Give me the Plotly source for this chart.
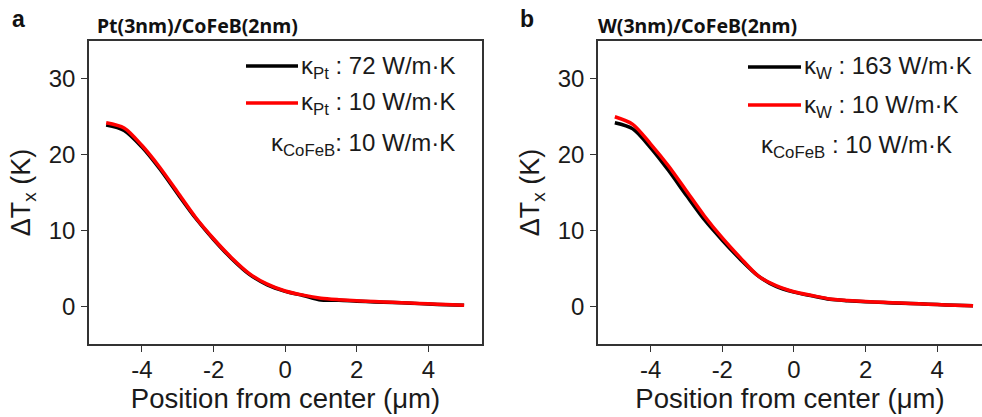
import plotly.graph_objects as go

# Position along the channel (µm)
position = [-5.0, -4.5, -4.0, -3.5, -3.0, -2.5, -2.0, -1.5, -1.0, -0.5, 0.0,
            0.5, 1.0, 1.5, 2.0, 2.5, 3.0, 3.5, 4.0, 4.5, 5.0]

# Panel a: Pt(3nm)/CoFeB(2nm), temperature rise ΔTx (K)
pt_kappa72 = [23.9, 23.2, 21.0, 18.1, 14.8, 11.6, 8.8, 6.3, 4.2, 2.8, 1.95,
              1.4, 0.8, 0.78, 0.65, 0.55, 0.48, 0.38, 0.28, 0.18, 0.1]
pt_kappa10 = [24.2, 23.5, 21.2, 18.3, 15.0, 11.7, 8.9, 6.4, 4.3, 2.9, 2.0,
              1.45, 1.05, 0.85, 0.7, 0.6, 0.5, 0.4, 0.3, 0.2, 0.1]

# Panel b: W(3nm)/CoFeB(2nm), temperature rise ΔTx (K)
w_kappa163 = [24.2, 23.4, 20.9, 17.9, 14.6, 11.4, 8.7, 6.2, 4.0, 2.6, 1.85,
              1.35, 0.9, 0.72, 0.58, 0.48, 0.38, 0.3, 0.2, 0.12, 0.05]
w_kappa10 = [25.0, 24.0, 21.4, 18.5, 15.2, 11.9, 9.0, 6.4, 4.0, 2.7, 1.9,
             1.4, 0.95, 0.75, 0.6, 0.5, 0.4, 0.3, 0.2, 0.12, 0.05]

x_ticks = [-4, -2, 0, 2, 4]
x_tick_labels = ["-4", "-2", "0", "2", "4"]
y_ticks = [0, 10, 20, 30]
y_tick_labels = ["0", "10", "20", "30"]

panel_letters = ["a", "b"]
panel_titles = ["Pt(3nm)/CoFeB(2nm)", "W(3nm)/CoFeB(2nm)"]
legend_a = ["κ<sub>Pt</sub> : 72 W/m·K", "κ<sub>Pt</sub> : 10 W/m·K",
            "κ<sub>CoFeB</sub>: 10 W/m·K"]
legend_b = ["κ<sub>W</sub> : 163 W/m·K", "κ<sub>W</sub> : 10 W/m·K",
            "κ<sub>CoFeB</sub> : 10 W/m·K"]

BLACK = "#000000"
RED = "#ff0000"
W, H = 982, 417
TOP, BOTTOM = 41, 344
FONT = "Liberation Sans, Arial, sans-serif"
TEXT = "#1a1a1a"


def px(x):
    return x / W


def py(y):
    return (BOTTOM - y) / (BOTTOM - TOP)


fig = go.Figure()

series = [
    ("x", "y", pt_kappa72, BLACK),
    ("x", "y", pt_kappa10, RED),
    ("x2", "y2", w_kappa163, BLACK),
    ("x2", "y2", w_kappa10, RED),
]
for xa, ya, vals, col in series:
    fig.add_trace(go.Scatter(
        x=position, y=vals, xaxis=xa, yaxis=ya, mode="lines",
        line=dict(color=col, width=3.5, shape="spline", smoothing=0.8),
        showlegend=False, hoverinfo="skip",
    ))

axis_common = dict(
    showgrid=False, zeroline=False, showline=True, linecolor="#333333",
    linewidth=1.6, ticks="outside", ticklen=6, tickwidth=1.3,
    tickcolor="#333333", tickfont=dict(family=FONT, size=24, color=TEXT),
)
x_title = dict(text="Position from center (μm)", standoff=0,
               font=dict(family=FONT, size=27.5, color=TEXT))
y_title = dict(text="ΔT<sub>x</sub> (K)", standoff=10,
               font=dict(family=FONT, size=27, color=TEXT))

fig.update_layout(
    width=W, height=H,
    margin=dict(l=0, r=0, t=TOP, b=H - BOTTOM),
    plot_bgcolor="white", paper_bgcolor="white",
    xaxis=dict(axis_common, domain=[px(89), px(482)], range=[-5.48, 5.5],
               tickvals=x_ticks, ticktext=x_tick_labels, mirror=True,
               anchor="y", ticklabelstandoff=-3, title=x_title),
    yaxis=dict(axis_common, domain=[0, 1], range=[-5, 35], tickvals=y_ticks,
               ticktext=y_tick_labels, mirror=True, anchor="x",
               ticklabelstandoff=1, title=y_title),
    xaxis2=dict(axis_common, domain=[px(598), 1.0], range=[-5.47, 5.25],
                tickvals=x_ticks, ticktext=x_tick_labels, mirror=True,
                anchor="y2", ticklabelstandoff=-3, title=x_title),
    yaxis2=dict(axis_common, domain=[0, 1], range=[-5, 35], tickvals=y_ticks,
                ticktext=y_tick_labels, mirror=False, anchor="x2",
                ticklabelstandoff=1, title=y_title),
)

# Panel letters and titles
for lx, tx, letter, title in [(10, 95, panel_letters[0], panel_titles[0]),
                              (518, 596, panel_letters[1], panel_titles[1])]:
    fig.add_annotation(x=px(lx), y=py(19), xref="paper", yref="paper",
                       text=f"<b>{letter}</b>", showarrow=False,
                       xanchor="left", yanchor="middle",
                       font=dict(family=FONT, size=23, color="#111111"))
    fig.add_annotation(x=px(tx), y=py(25), xref="paper", yref="paper",
                       text=f"<b>{title}</b>", showarrow=False,
                       xanchor="left", yanchor="middle",
                       font=dict(family="Noto Sans, sans-serif", size=19.5,
                                 color="#111111"))

# Legend blocks: sample line + label for each curve, plus the CoFeB note
for (x0, x1, rows, note_x, note_y, labels) in [
    (246, 298, [(66, BLACK), (103, RED)], 457, 143, legend_a),
    (748, 801, [(67, BLACK), (105, RED)], 954, 145, legend_b),
]:
    for (ly, col), lab in zip(rows, labels[:2]):
        fig.add_shape(type="line", xref="paper", yref="paper",
                      x0=px(x0), x1=px(x1), y0=py(ly), y1=py(ly),
                      line=dict(color=col, width=3.5))
        fig.add_annotation(x=px(x1 + 1), y=py(ly + 1), xref="paper",
                           yref="paper", text=lab, showarrow=False,
                           xanchor="left", yanchor="middle",
                           font=dict(family=FONT, size=24, color=TEXT))
    fig.add_annotation(x=px(note_x), y=py(note_y + 1), xref="paper",
                       yref="paper", text=labels[2], showarrow=False,
                       xanchor="right", yanchor="middle",
                       font=dict(family=FONT, size=24, color=TEXT))

fig.write_html("out.html")
